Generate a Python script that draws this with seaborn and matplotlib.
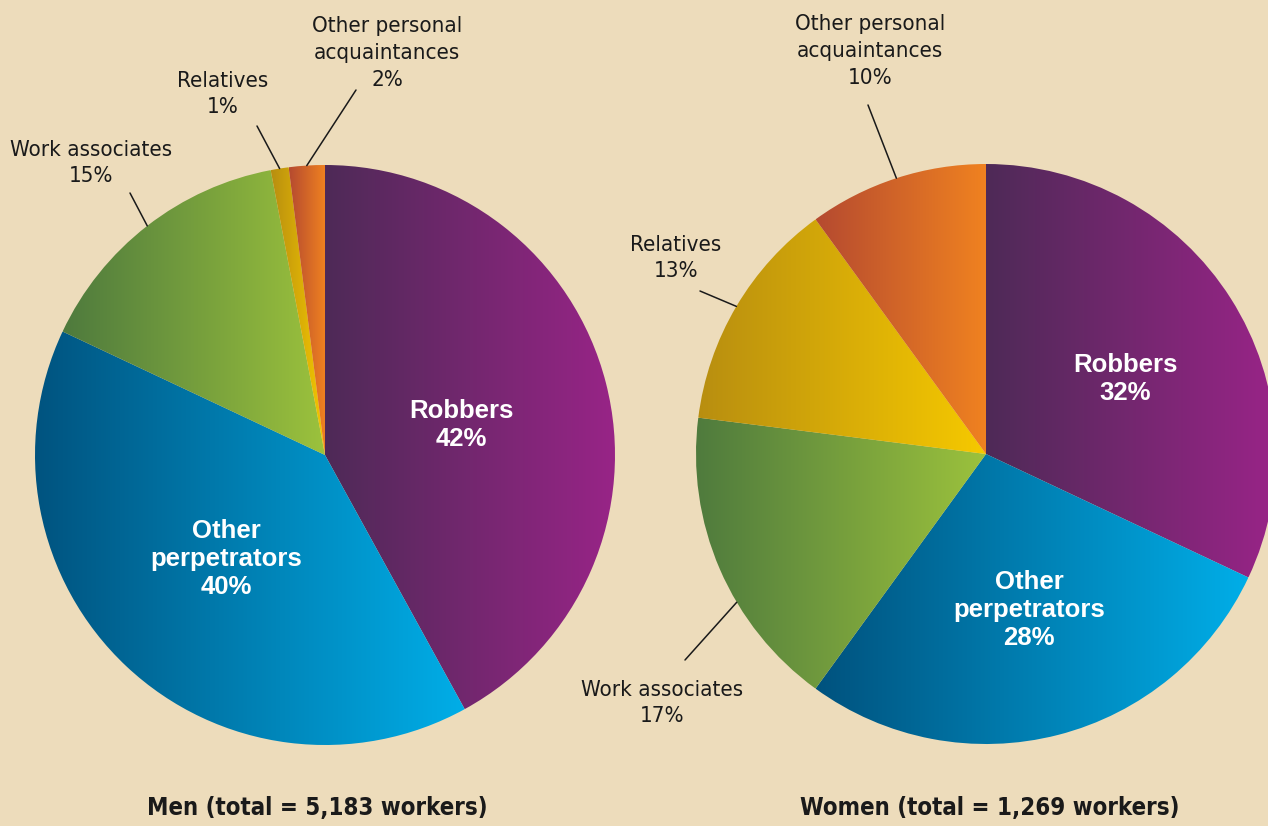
import numpy as np
import matplotlib.pyplot as plt
import seaborn as sns
from matplotlib import font_manager
from matplotlib.colors import LinearSegmentedColormap

sns.set_theme(style='white')

# data
categories = ['Robbers', 'Other perpetrators', 'Work associates',
              'Relatives', 'Other personal acquaintances']
men_values = [42, 40, 15, 1, 2]
women_values = [32, 28, 17, 13, 10]
men_total = '5,183'
women_total = '1,269'

# left -> right gradient colours per category
grad_colors = [
    ('#4e2a57', '#9a2488'),
    ('#00527e', '#00aee8'),
    ('#4e7a3e', '#9cc23c'),
    ('#b88e10', '#f6c900'),
    ('#b54a30', '#f08220'),
]
bg = '#eddcbb'

# look for a narrow font, the original uses a condensed sans
fonts = [(f.name, f.stretch) for f in font_manager.fontManager.ttflist]
narrow = None
for name, stretch in fonts:
    if name == 'Liberation Sans Narrow':
        narrow = dict(family=[name, 'DejaVu Sans'], fontstretch='normal')
        break
if narrow is None:
    for name, stretch in fonts:
        if str(stretch) in ('condensed', 'semi-condensed', 'extra-condensed'):
            narrow = dict(family=[name, 'DejaVu Sans'], fontstretch=stretch)
            break
if narrow is None:
    narrow = dict(family=['Liberation Sans', 'DejaVu Sans'], fontstretch='normal')
    lab_size, title_size = 15.5, 16.5
else:
    lab_size, title_size = 16, 17.2

plt.rcParams['font.family'] = ['Liberation Sans', 'DejaVu Sans']

W, H = 1268, 826
R = 290

fig = plt.figure(figsize=(12.68, 8.26), dpi=100)
fig.patch.set_facecolor(bg)
ax = fig.add_axes([0, 0, 1, 1])
ax.set_facecolor(bg)


def py(y):
    return H - y


def draw_pie(values, cx, cy):
    wedges, _ = ax.pie(values, startangle=90, counterclock=False,
                       center=(cx, py(cy)), radius=R,
                       wedgeprops=dict(facecolor='none', edgecolor='none'))
    grad = np.linspace(0, 1, 256).reshape(1, -1)
    for w, (c0, c1) in zip(wedges, grad_colors):
        v = w.get_path().vertices
        cmap = LinearSegmentedColormap.from_list('g', [c0, c1])
        im = ax.imshow(grad, extent=(v[:, 0].min(), v[:, 0].max(),
                                     v[:, 1].min(), v[:, 1].max()),
                       cmap=cmap, aspect='auto', zorder=1)
        im.set_clip_path(w)
    return wedges


def edge_point(w, frac=0.5):
    ang = np.deg2rad(w.theta2 - frac * (w.theta2 - w.theta1))
    cx, cy = w.center
    return cx + w.r * np.cos(ang), cy + w.r * np.sin(ang)


def outer_label(w, text, tx, ty, lx, ly, frac=0.5):
    ax.text(tx, py(ty), text, ha='center', va='center', fontsize=lab_size,
            color='#1a1a1a', linespacing=1.42, zorder=3, **narrow)
    ex, ey = edge_point(w, frac)
    ax.plot([lx, ex], [py(ly), ey], color='#1a1a1a', lw=1.1, zorder=3)


def inner_label(text, tx, ty):
    ax.text(tx, py(ty), text, ha='center', va='center', fontsize=18.5,
            color='white', fontweight='bold', zorder=3)


# Men
mw = draw_pie(men_values, 325, 455)
inner_label(f'{categories[0]}\n{men_values[0]}%', 461, 425)
inner_label(f'Other\nperpetrators\n{men_values[1]}%', 226, 559)
outer_label(mw[2], f'{categories[2]}\n{men_values[2]}%', 91, 163, 130, 193)
outer_label(mw[3], f'{categories[3]}\n{men_values[3]}%', 223, 94, 257, 126)
outer_label(mw[4], f'Other personal\nacquaintances\n{men_values[4]}%', 387, 53, 356, 90)

# Women
ww = draw_pie(women_values, 986, 454)
inner_label(f'{categories[0]}\n{women_values[0]}%', 1125, 379)
inner_label(f'Other\nperpetrators\n{women_values[1]}%', 1029, 610)
outer_label(ww[2], f'{categories[2]}\n{women_values[2]}%', 662, 703, 685, 660, frac=0.38)
outer_label(ww[3], f'{categories[3]}\n{women_values[3]}%', 676, 258, 700, 291)
outer_label(ww[4], f'Other personal\nacquaintances\n{women_values[4]}%', 870, 51, 868, 105)

# titles
ax.text(317, py(808), f'Men (total = {men_total} workers)', ha='center', va='center',
        fontsize=title_size, fontweight='bold', color='#1a1a1a', **narrow)
ax.text(990, py(808), f'Women (total = {women_total} workers)', ha='center', va='center',
        fontsize=title_size, fontweight='bold', color='#1a1a1a', **narrow)

ax.set_xlim(0, W)
ax.set_ylim(0, H)
ax.set_aspect('auto')
ax.axis('off')

fig.savefig('out.png', dpi=100, facecolor=bg)
